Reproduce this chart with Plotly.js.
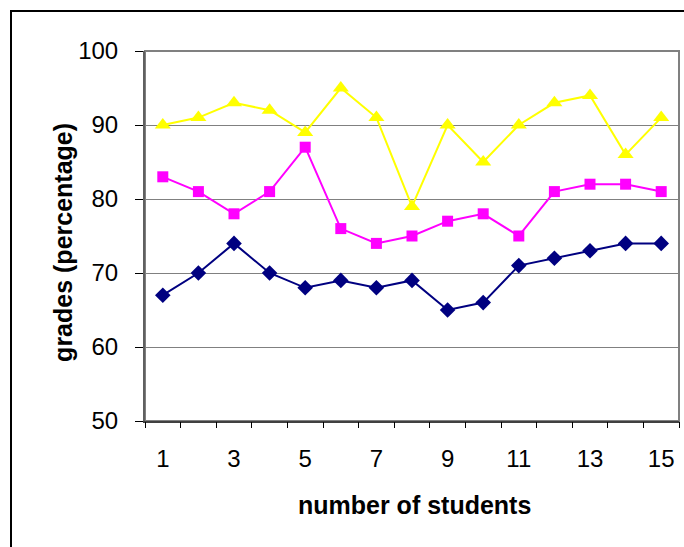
<!DOCTYPE html>
<html>
<head>
<meta charset="utf-8">
<script src="https://cdn.plot.ly/plotly-3.0.1.min.js"></script>
<style>
  html, body { margin: 0; padding: 0; background: #fff; overflow: hidden; }
  #chart { position: absolute; left: 0; top: 0; width: 684px; height: 547px; }
  #frame { position: absolute; left: 10px; top: 10px; width: 700px; height: 560px;
           border: 2px solid #000; pointer-events: none; }
</style>
</head>
<body>
<div id="chart"></div>
<div id="frame"></div>
<script>
// Data
var students = [1, 2, 3, 4, 5, 6, 7, 8, 9, 10, 11, 12, 13, 14, 15];
var seriesA = [67, 70, 74, 70, 68, 69, 68, 69, 65, 66, 71, 72, 73, 74, 74]; // navy diamonds
var seriesB = [83, 81, 78, 81, 87, 76, 74, 75, 77, 78, 75, 81, 82, 82, 81]; // magenta squares
var seriesC = [90, 91, 93, 92, 89, 95, 91, 79, 90, 85, 90, 93, 94, 86, 91]; // yellow triangles
var xTickLabels = ['1', '3', '5', '7', '9', '11', '13', '15'];
var xTickVals = [1, 3, 5, 7, 9, 11, 13, 15];
var catBoundaries = [0.5, 1.5, 2.5, 3.5, 4.5, 5.5, 6.5, 7.5, 8.5, 9.5, 10.5, 11.5, 12.5, 13.5, 14.5, 15.5];
var yTicks = [50, 60, 70, 80, 90, 100];
var xTitle = 'number of students';
var yTitle = 'grades (percentage)';

var FONT = 'Liberation Sans, Arial, sans-serif';

var traces = [
  { x: students, y: seriesA, type: 'scatter', mode: 'lines+markers',
    line: { color: '#000080', width: 2 },
    marker: { symbol: 'diamond', size: 12, color: '#000080' }, showlegend: false },
  { x: students, y: seriesB, type: 'scatter', mode: 'lines+markers',
    line: { color: '#FF00FF', width: 2 },
    marker: { symbol: 'square', size: 11, color: '#FF00FF' }, showlegend: false },
  { x: students, y: seriesC, type: 'scatter', mode: 'lines+markers',
    line: { color: '#FFFF00', width: 2 },
    marker: { symbol: 'triangle-up', size: 14, color: '#FFFF00' }, showlegend: false },
  { x: [], y: [], xaxis: 'x2', yaxis: 'y', type: 'scatter', showlegend: false, hoverinfo: 'skip' }
];

var layout = {
  width: 684, height: 547,
  margin: { l: 145, r: 5, t: 51, b: 126 },
  paper_bgcolor: '#ffffff', plot_bgcolor: '#ffffff',
  font: { family: FONT, color: '#000000' },
  showlegend: false,
  xaxis: {
    range: [0.5, 15.5], tickmode: 'array', tickvals: xTickVals, ticktext: xTickLabels,
    ticks: '', showgrid: false, zeroline: false,
    showline: true, linecolor: '#404040', linewidth: 2,
    ticklabelstandoff: 15,
    tickfont: { family: FONT, size: 24, color: '#000' }
  },
  xaxis2: {
    overlaying: 'x', anchor: 'y', side: 'bottom',
    range: [0.5, 15.5], tickmode: 'array', tickvals: catBoundaries,
    ticks: 'outside', ticklen: 6, tickwidth: 1, tickcolor: '#000',
    showticklabels: false, showgrid: false, zeroline: false, showline: false
  },
  yaxis: {
    range: [50, 100], tickmode: 'array', tickvals: yTicks,
    ticks: 'outside', ticklen: 8, tickwidth: 1, tickcolor: '#000',
    showgrid: true, gridcolor: '#808080', gridwidth: 1,
    zeroline: false, showline: true, linecolor: '#606060', linewidth: 2,
    ticklabelstandoff: 12,
    tickfont: { family: FONT, size: 24, color: '#000' }
  },
  annotations: [
    { text: xTitle, xref: 'paper', yref: 'paper', x: 0.504, y: -0.227,
      xanchor: 'center', yanchor: 'middle', showarrow: false,
      font: { family: FONT, size: 25, color: '#000', weight: 'bold' } },
    { text: yTitle, xref: 'paper', yref: 'paper', x: -0.155, y: 0.482,
      xanchor: 'center', yanchor: 'middle', showarrow: false, textangle: -90,
      font: { family: FONT, size: 25, color: '#000', weight: 'bold' } }
  ],
  shapes: [
    { type: 'rect', xref: 'paper', yref: 'paper', x0: 0, x1: 1, y0: 0, y1: 1,
      line: { color: '#808080', width: 2 }, fillcolor: 'rgba(0,0,0,0)', layer: 'below' }
  ]
};

Plotly.newPlot('chart', traces, layout, { staticPlot: true, displayModeBar: false });
</script>
</body>
</html>
